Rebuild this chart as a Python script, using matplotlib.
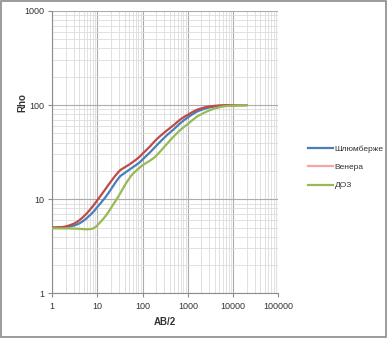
import matplotlib

matplotlib.use("Agg")
import numpy as np
import matplotlib.pyplot as plt
from matplotlib.lines import Line2D
from matplotlib.patches import PathPatch, Rectangle
from matplotlib.path import Path
from matplotlib.ticker import LogLocator, NullFormatter, FixedLocator

# Apparent resistivity sounding curves for three electrode arrays
ab2 = [1, 1.5, 2, 3, 4, 5, 6, 8, 10, 15, 20, 30, 40, 50, 60, 80, 100, 150, 200,
       300, 400, 500, 700, 1000, 1500, 2000, 3000, 5000, 7000, 10000, 20000]
rho_schlumberger = [5.0, 5.02, 5.07, 5.25, 5.55, 5.95, 6.4, 7.3, 8.3, 10.5, 12.8,
                    17.0, 19.0, 20.5, 21.8, 24.0, 26.5, 32.0, 37.0, 45.0, 51.0, 56.0,
                    65.0, 74.0, 84.0, 89.0, 94.5, 98.3, 99.3, 99.8, 100.0]
rho_wenner = [5.0, 5.05, 5.15, 5.5, 6.0, 6.6, 7.2, 8.5, 9.8, 12.8, 15.5,
              19.8, 21.8, 23.3, 24.8, 27.5, 30.5, 37.0, 43.0, 51.0, 57.0, 62.0,
              71.0, 79.0, 88.0, 92.5, 96.8, 99.0, 99.6, 100.0, 100.0]
rho_dipole = [4.9, 4.9, 4.9, 4.88, 4.85, 4.82, 4.8, 4.9, 5.3, 6.6, 8.1,
              11.0, 14.0, 16.5, 18.5, 21.0, 23.0, 26.0, 29.0, 36.0, 42.0, 47.0,
              55.0, 63.0, 74.0, 80.0, 88.0, 95.0, 97.5, 99.0, 100.0]

names = ["Шлюмберже", "Венера", "ДОЗ"]
line_colors = ["#4a7ebb", "#be4b48", "#98b954"]
legend_colors = ["#4a7ebb", "#f2a7a5", "#98b954"]


def smooth_path(xs, ys):
    """Bezier path through the points (Catmull-Rom tangents in log-log space)."""
    lx, ly = np.log10(xs), np.log10(ys)
    n = len(lx)
    verts = [(xs[0], ys[0])]
    codes = [Path.MOVETO]
    for i in range(n - 1):
        i0, i3 = max(i - 1, 0), min(i + 2, n - 1)
        c1 = (lx[i] + (lx[i + 1] - lx[i0]) / 6, ly[i] + (ly[i + 1] - ly[i0]) / 6)
        c2 = (lx[i + 1] - (lx[i3] - lx[i]) / 6, ly[i + 1] - (ly[i3] - ly[i]) / 6)
        verts += [(10 ** c1[0], 10 ** c1[1]), (10 ** c2[0], 10 ** c2[1]),
                  (xs[i + 1], ys[i + 1])]
        codes += [Path.CURVE4] * 3
    return Path(verts, codes)


plt.rcParams["font.family"] = ["Liberation Sans", "DejaVu Sans"]

fig = plt.figure(figsize=(3.87, 3.38), dpi=100)
ax = fig.add_axes([0.135, 0.132, 0.584, 0.8355])

ax.set_xscale("log")
ax.set_yscale("log")
ax.set_xlim(1, 100000)
ax.set_ylim(1, 1000)

for ys, c in zip([rho_schlumberger, rho_wenner, rho_dipole], line_colors):
    ax.add_patch(PathPatch(smooth_path(ab2, ys), facecolor="none", edgecolor=c,
                           linewidth=1.6, capstyle="round", zorder=3))

ax.xaxis.set_major_locator(FixedLocator([1, 10, 100, 1000, 10000, 100000]))
ax.yaxis.set_major_locator(FixedLocator([1, 10, 100, 1000]))
ax.xaxis.set_minor_locator(LogLocator(base=10, subs=range(2, 10), numticks=20))
ax.yaxis.set_minor_locator(LogLocator(base=10, subs=range(2, 10), numticks=20))
ax.xaxis.set_minor_formatter(NullFormatter())
ax.yaxis.set_minor_formatter(NullFormatter())
ax.set_xticklabels(["1", "10", "100", "1000", "10000", "100000"])
ax.set_yticklabels(["1", "10", "100", "1000"])

ax.grid(which="major", color="#ababab", linewidth=0.8)
ax.grid(which="minor", color="#dcdcdc", linewidth=0.6)
ax.set_axisbelow(True)

for side in ["top", "right"]:
    ax.spines[side].set_visible(False)
for side in ["left", "bottom"]:
    ax.spines[side].set_color("#8c8c8c")
    ax.spines[side].set_linewidth(0.8)

ax.tick_params(which="major", length=3, width=0.8, color="#8c8c8c",
               labelsize=6.5, labelcolor="#333333", pad=3)
ax.tick_params(which="minor", length=0)

fig.text(0.427, 0.047, "AB/2", ha="center", va="center", fontsize=7,
         fontweight="bold", color="#333333")
fig.text(0.058, 0.698, "Rho", ha="center", va="center", fontsize=7,
         fontweight="bold", color="#333333", rotation=90)

handles = [Line2D([0], [0], color=c, linewidth=1.6) for c in legend_colors]
fig.legend(handles, names, loc="center left", bbox_to_anchor=(0.777, 0.505),
           frameon=False, fontsize=6.0, handlelength=3.0, handletextpad=0.15,
           labelspacing=1.25, labelcolor="#333333")

fig.patches.append(Rectangle((0.002, 0.002), 0.996, 0.996, transform=fig.transFigure,
                             fill=False, edgecolor="#8a8a8a", linewidth=1.2))

fig.savefig("out.png", dpi=100)
